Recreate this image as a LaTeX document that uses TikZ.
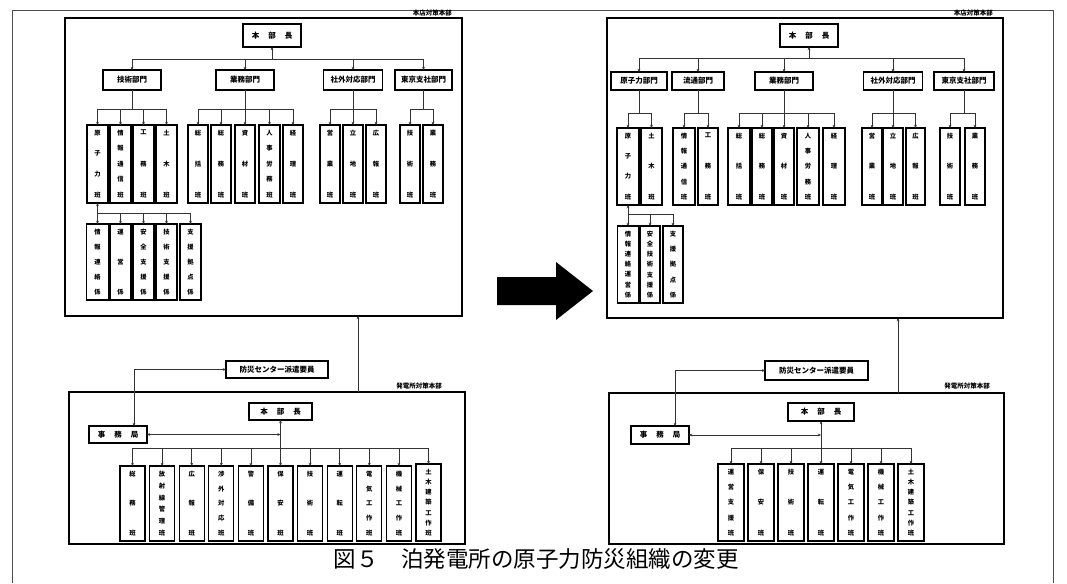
\documentclass[tikz,border=0pt]{standalone}
\usepackage{fontspec}
\setmainfont{Noto Sans CJK JP}
\usetikzlibrary{arrows.meta}
\makeatletter
\newcommand\vcol[2]{\vbox to #1{\@tempswafalse\@tfor\vc@c:=#2\do{\if@tempswa\vfill\fi\@tempswatrue\hbox to 10pt{\hss\vc@c\hss}}}}
\makeatother
\newcommand\bx[7][]{\node[box,#1,minimum width={#5-#3},minimum height={#6-#4}] (#2) at ({(#3+#5)/2},{(#4+#6)/2}) {#7};}
\newcommand\cl[6]{\bx[col]{#1}{#2}{#3}{#4}{#5}{\vcol{\dimexpr #5pt-#3pt-11pt\relax}{#6}}}
\newcommand\spthree[3]{#1\hspace{9pt}#2\hspace{9pt}#3}
\begin{document}
\begin{tikzpicture}[x=1pt,y=-1pt,
 box/.style={draw,line width=1.2pt,inner sep=0pt,outer sep=0pt,font=\fontsize{7.5}{8}\selectfont\bfseries},
 col/.style={font=\fontsize{6.3}{6.3}\selectfont\bfseries},
 lin/.style={draw=black!80,line width=0.75pt},
 arr/.style={lin,-{Stealth[length=3.2pt,width=2.8pt]}},
 both/.style={lin,{Stealth[length=3.2pt,width=2.8pt]}-{Stealth[length=3.2pt,width=2.8pt]}},
 lab/.style={inner sep=0pt,anchor=east,font=\fontsize{6.5}{6.5}\selectfont\bfseries}]
\useasboundingbox (0,0) rectangle (1067,583);
\fill[white] (0,0) rectangle (1067,583);
\draw[black!70,line width=0.8pt] (12,583) -- (12,10) -- (1053,10) -- (1053,583);

% ===== top left =====
\bx{TL}{65}{18}{462}{316}{}
\node[lab] (TLlab) at (452,13) {本店対策本部};
\bx{A1}{243}{24}{301}{47}{\spthree{本}{部}{長}}
\bx{D1}{103}{70}{161}{90}{技術部門}
\bx{D2}{216}{70}{274}{90}{業務部門}
\bx{D3}{323.5}{70}{382.5}{90}{社外対応部門}
\bx{D4}{395}{70}{452}{90}{東京支社部門}
\coordinate (t1) at (0,59);
\draw[lin] (D1.north |- t1) -- (D4.north |- t1);
\draw[arr] (A1.south |- t1) -- (A1.south);
\foreach \n in {D1,D2,D3,D4} \draw[arr] (\n.north |- t1) -- (\n.north);

\cl{C1}{87}{125}{108}{203}{原子力班}
\cl{C2}{110}{125}{131}{203}{情報通信班}
\cl{C3}{133}{125}{154}{203}{工務班}
\cl{C4}{156}{125}{177}{203}{土木班}
\cl{C5}{188}{125}{208}{203}{総括班}
\cl{C6}{211}{125}{231}{203}{総務班}
\cl{C7}{235}{125}{255}{203}{資材班}
\cl{C8}{259}{125}{280}{203}{人事労務班}
\cl{C9}{283}{125}{303}{203}{経理班}
\cl{C10}{320}{125}{340}{203}{営業班}
\cl{C11}{343}{125}{363}{203}{立地班}
\cl{C12}{366}{125}{386}{203}{広報班}
\cl{C13}{400}{125}{420}{203}{技術班}
\cl{C14}{423}{125}{443}{203}{業務班}
\coordinate (t2) at (0,109);
\draw[lin] (D1.south) -- (D1.south |- t2);
\draw[lin] (C1.north |- t2) -- (C4.north |- t2);
\draw[arr] (D2.south) -- (C7.north);
\draw[lin] (C5.north |- t2) -- (C9.north |- t2);
\draw[arr] (D3.south) -- (C11.north);
\draw[lin] (C10.north |- t2) -- (C12.north |- t2);
\draw[lin] (D4.south) -- (D4.south |- t2);
\draw[lin] (C13.north |- t2) -- (C14.north |- t2);
\foreach \n in {C1,C2,C3,C4,C5,C6,C8,C9,C10,C12,C13,C14} \draw[arr] (\n.north |- t2) -- (\n.north);

\cl{E1}{86.5}{224}{108.5}{300}{情報連絡係}
\cl{E2}{110}{224}{131}{300}{運営係}
\cl{E3}{133}{224}{154}{300}{安全支援係}
\cl{E4}{156}{224}{177}{300}{技術支援係}
\cl{E5}{180}{224}{201}{300}{支援拠点係}
\coordinate (t3) at (0,213);
\draw[arr] (C1.south |- t3) -- (C1.south);
\draw[lin] (E1.north |- t3) -- (E5.north |- t3);
\foreach \n in {E1,E2,E3,E4,E5} \draw[arr] (\n.north |- t3) -- (\n.north);

% ===== bottom left =====
\bx{BL}{69}{392}{465}{544}{}
\node[lab] (BLlab) at (442,386) {発電所対策本部};
\bx{P1}{226}{361}{328}{378}{防災センター派遣要員}
\bx{B1}{249}{403}{312}{420}{\spthree{本}{部}{長}}
\bx{J1}{89}{426}{147}{443}{\spthree{事}{務}{局}}
\coordinate (k1) at (134,369.5);
\draw[both] (P1.west) -- (k1) -- (k1 |- J1.north);
\draw[both] (J1.east) -- (J1.east -| B1.south);
\cl{G1}{120}{466}{145}{541}{総務班}
\cl{G2}{149.6}{466}{174.6}{541}{放射線管理班}
\cl{G3}{179.2}{466}{204.2}{541}{広報班}
\cl{G4}{208.8}{466}{233.8}{541}{渉外対応班}
\cl{G5}{238.4}{466}{263.4}{541}{警備班}
\cl{G6}{268}{466}{293}{541}{保安班}
\cl{G7}{297.6}{466}{322.6}{541}{技術班}
\cl{G8}{327.2}{466}{352.2}{541}{運転班}
\cl{G9}{356.8}{466}{381.8}{541}{電気工作班}
\cl{G10}{386.4}{466}{411.4}{541}{機械工作班}
\cl{G11}{416}{464}{441}{541}{土木建築工作班}
\coordinate (t4) at (0,448);
\draw[lin] (G1.north |- t4) -- (G11.north |- t4);
\draw[both] (B1.south) -- (G6.north);
\foreach \n in {G1,G2,G3,G4,G5,G7,G8,G9,G10,G11} \draw[arr] (\n.north |- t4) -- (\n.north);
\coordinate (v1) at (358,0);
\draw[arr] (BL.north -| v1) -- (TL.south -| v1);

% ===== top right =====
\bx{TR}{607}{18}{1003}{318}{}
\node[lab] (TRlab) at (993,13) {本店対策本部};
\bx{A2}{780}{24}{838}{47}{\spthree{本}{部}{長}}
\bx{R1}{611}{72}{667}{90}{原子力部門}
\bx{R2}{672}{72}{724}{90}{流通部門}
\bx{R3}{755}{72}{813}{90}{業務部門}
\bx{R4}{863.5}{72}{922.5}{90}{社外対応部門}
\bx{R5}{934}{72}{994}{90}{東京支社部門}
\coordinate (t6) at (0,58);
\draw[lin] (R1.north |- t6) -- (R5.north |- t6);
\draw[arr] (A2.south |- t6) -- (A2.south);
\foreach \n in {R1,R2,R3,R4,R5} \draw[arr] (\n.north |- t6) -- (\n.north);

\cl{F1}{617}{128}{639}{205}{原子力班}
\cl{F2}{641}{128}{662}{205}{土木班}
\cl{F3}{673}{128}{695}{205}{情報通信班}
\cl{F4}{698}{128}{718}{205}{工務班}
\cl{F5}{728}{128}{750}{205}{総括班}
\cl{F6}{752}{128}{772}{205}{総務班}
\cl{F7}{774}{128}{794}{205}{資材班}
\cl{F8}{797}{128}{819}{205}{人事労務班}
\cl{F9}{823}{128}{845}{205}{経理班}
\cl{F10}{862}{128}{882}{205}{営業班}
\cl{F11}{883}{128}{903}{205}{立地班}
\cl{F12}{906}{128}{925}{205}{広報班}
\cl{F13}{940}{128}{960}{205}{技術班}
\cl{F14}{965}{128}{985}{205}{業務班}
\coordinate (t7) at (0,113);
\draw[lin] (R1.south) -- (R1.south |- t7);
\draw[lin] (F1.north |- t7) -- (F2.north |- t7);
\draw[lin] (R2.south) -- (R2.south |- t7);
\draw[lin] (F3.north |- t7) -- (F4.north |- t7);
\draw[arr] (R3.south) -- (F7.north);
\draw[lin] (F5.north |- t7) -- (F9.north |- t7);
\draw[arr] (R4.south) -- (F11.north);
\draw[lin] (F10.north |- t7) -- (F12.north |- t7);
\draw[lin] (R5.south) -- (R5.south |- t7);
\draw[lin] (F13.north |- t7) -- (F14.north |- t7);
\foreach \n in {F1,F2,F3,F4,F5,F6,F8,F9,F10,F12,F13,F14} \draw[arr] (\n.north |- t7) -- (\n.north);

\cl{Q1}{617.5}{226}{638.5}{303}{情報連絡運営係}
\cl{Q2}{640}{226}{660}{303}{安全技術支援係}
\cl{Q3}{663}{226}{683}{303}{支援拠点係}
\coordinate (t8) at (0,214);
\draw[arr] (F1.south |- t8) -- (F1.south);
\draw[lin] (Q1.north |- t8) -- (Q3.north |- t8);
\foreach \n in {Q1,Q2,Q3} \draw[arr] (\n.north |- t8) -- (\n.north);

% ===== bottom right =====
\bx{BR}{609}{393}{1004}{544}{}
\node[lab] (BRlab) at (990,386) {発電所対策本部};
\bx{P2}{765}{361}{868}{380}{防災センター派遣要員}
\bx{B2}{788}{403}{854}{421}{\spthree{本}{部}{長}}
\bx{J2}{631}{426}{689}{444}{\spthree{事}{務}{局}}
\coordinate (k2) at (675,370.5);
\draw[both] (P2.west) -- (k2) -- (k2 |- J2.north);
\draw[both] (J2.east) -- (J2.east -| B2.south);
\cl{H1}{718}{464}{744}{541}{運営支援班}
\cl{H2}{748}{464}{774}{541}{保安班}
\cl{H3}{778}{464}{804}{541}{技術班}
\cl{H4}{808}{464}{834}{541}{運転班}
\cl{H5}{838}{464}{864}{541}{電気工作班}
\cl{H6}{868}{464}{894}{541}{機械工作班}
\cl{H7}{898}{464}{924}{541}{土木建築工作班}
\coordinate (t5) at (0,448);
\draw[lin] (H1.north |- t5) -- (H7.north |- t5);
\draw[both] (B2.south) -- (H4.north);
\foreach \n in {H1,H2,H3,H5,H6,H7} \draw[arr] (\n.north |- t5) -- (\n.north);
\coordinate (v2) at (898,0);
\draw[arr] (BR.north -| v2) -- (TR.south -| v2);

% ===== big arrow and caption =====
\fill (497,277) -- (556,277) -- (556,262) -- (593,291) -- (556,320) -- (556,305) -- (497,305) -- cycle;
\node[inner sep=0pt,font=\fontsize{22.5}{22.5}\selectfont] (cap) at (536,559) {図５　泊発電所の原子力防災組織の変更};
\end{tikzpicture}
\end{document}
